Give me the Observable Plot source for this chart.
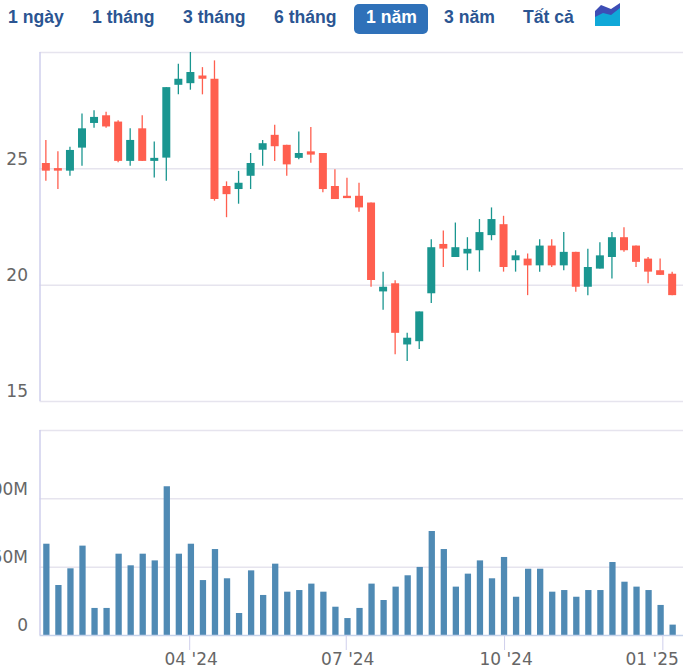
<!DOCTYPE html>
<html><head><meta charset="utf-8">
<script src="https://cdn.jsdelivr.net/npm/d3@7"></script>
<script src="https://cdn.jsdelivr.net/npm/@observablehq/plot@0.6"></script>
<style>
html,body{margin:0;padding:0;background:#fff;width:700px;height:672px;overflow:hidden}
#wrap{position:relative;width:700px;height:672px}
.btn{position:absolute;top:8px;font:bold 17.6px "Liberation Sans",Arial,sans-serif;color:#2b5592;line-height:19px;white-space:nowrap}
.btn.on{color:#fff}
#active{position:absolute;left:354px;top:4px;width:74px;height:30px;background:#2f71b9;border-radius:5px}
#icon{position:absolute;left:595px;top:2px}
.plot{position:absolute;left:0}
svg{overflow:hidden}
</style></head><body><div id="wrap">
<div id="active"></div>
<div id="icon"><svg width="26" height="25" viewBox="0 0 26 25"><path d="M0 9L6 3L16 7L25 1V24H0Z" fill="#3d4db5"/><path d="M0 15L8 11L16 13L25 6V24H0Z" fill="#10a8d8"/></svg></div>
</div>
<script>
const rangeLabels = ["1 ngày","1 tháng","3 tháng","6 tháng","1 năm","3 năm","Tất cả"];
const rangeLeft = [8,92,183,274,366,444,523];
const dates = ["2024-01-08","2024-01-15","2024-01-22","2024-01-29","2024-02-05","2024-02-12","2024-02-19","2024-02-26","2024-03-04","2024-03-11","2024-03-18","2024-03-25","2024-04-01","2024-04-08","2024-04-15","2024-04-22","2024-04-29","2024-05-06","2024-05-13","2024-05-20","2024-05-27","2024-06-03","2024-06-10","2024-06-17","2024-06-24","2024-07-01","2024-07-08","2024-07-15","2024-07-22","2024-07-29","2024-08-05","2024-08-12","2024-08-19","2024-08-26","2024-09-02","2024-09-09","2024-09-16","2024-09-23","2024-09-30","2024-10-07","2024-10-14","2024-10-21","2024-10-28","2024-11-04","2024-11-11","2024-11-18","2024-11-25","2024-12-02","2024-12-09","2024-12-16","2024-12-23","2024-12-30","2025-01-06"];
const opens = [25.23,25.01,24.90,25.89,26.95,27.28,27.01,25.32,26.72,25.32,25.46,28.59,28.66,28.99,28.85,24.24,24.11,24.68,25.80,26.44,26.01,25.45,25.73,25.66,24.24,23.82,23.82,23.53,19.71,20.06,17.43,17.57,19.63,21.75,21.19,21.34,21.48,22.13,22.60,21.05,21.12,20.83,21.68,20.83,21.41,19.91,20.69,21.19,22.04,21.68,21.12,20.62,20.47];
const closes = [24.90,24.90,25.79,26.72,27.21,26.80,25.32,26.22,25.32,25.45,28.49,28.85,29.14,28.85,23.68,23.89,24.38,25.23,26.08,25.95,25.17,25.66,25.59,24.11,23.68,23.72,23.32,20.20,19.91,17.93,17.72,18.85,21.61,21.55,21.61,21.54,22.26,22.82,20.76,21.26,20.83,21.68,20.83,21.41,19.91,20.76,21.26,22.04,21.48,20.98,20.56,20.42,19.55];
const highs = [26.22,25.73,25.93,27.36,27.50,27.43,27.07,26.72,27.28,26.15,28.49,29.50,30.00,29.35,29.64,24.44,24.89,25.66,26.22,26.87,26.01,26.58,26.78,25.66,24.96,24.60,24.38,23.53,20.56,20.19,17.93,18.85,21.95,22.33,22.67,22.04,22.82,23.32,22.96,21.48,21.34,21.95,21.95,22.26,21.41,21.54,21.82,22.26,22.47,21.68,21.19,21.12,20.55];
const lows = [24.47,24.11,24.68,25.11,26.74,26.74,25.26,25.11,25.32,24.61,24.47,28.18,28.38,28.18,23.61,22.90,23.48,24.11,25.11,25.32,24.68,25.39,25.24,23.97,23.68,23.72,23.13,19.91,18.92,17.01,16.72,17.23,19.21,20.76,21.19,20.62,20.56,21.91,20.56,20.56,19.55,20.56,20.76,20.62,19.70,19.55,20.69,20.26,21.41,20.76,20.06,20.42,19.55];
const volumes = [66.8,36.6,48.8,65.4,19.8,19.8,59.5,51,59.5,54.6,108.8,59.5,66.8,40.2,62.9,41.5,16.1,47.3,29.3,52.2,31.7,32.9,37.6,31.7,20.7,12.4,19.8,37.6,25.6,35.4,43.7,49.8,76.1,62.9,35.4,44.9,54.6,41.5,57.1,28,48.5,48.5,31.7,32.9,28,32.9,32.9,53.4,39,35.4,32.9,22,7.6];
const priceTicks = [15,20,25];
const priceLines = [15,20,25,30];
const volumeTicks = [0,50,100];
const volumeLabels = {0:"0",50:"50M",100:"100M"};
const volumeLines = [0,50,100,150];
const monthTicks = ["2024-04-01","2024-07-01","2024-10-01","2025-01-01"];
const monthLabels = ["04 '24","07 '24","10 '24","01 '25"];
const xDomain = ["2024-01-05","2025-01-13"];

const UP = "#1a9690", DOWN = "#ff5f4f", VOL = "#4f8ab4", GRID = "#e6e4ee", AXIS = "#cfcfec", LABEL = "#666";
const FONT = "'DejaVu Sans',sans-serif";
const d = s => new Date(s + "T00:00:00Z");
const wrap = document.getElementById("wrap");

rangeLabels.forEach((t, i) => {
  const s = document.createElement("span");
  s.className = "btn" + (t === "1 năm" ? " on" : "");
  s.style.left = rangeLeft[i] + "px";
  s.textContent = t;
  wrap.appendChild(s);
});

const rows = dates.map((s, i) => ({date: d(s), o: opens[i], c: closes[i], h: highs[i], l: lows[i], v: volumes[i],
  color: closes[i] >= opens[i] ? UP : DOWN}));
const shared = {width: 700, marginLeft: 39.5, marginRight: 17, style: {background: "transparent", fontFamily: FONT, fontSize: "17px", overflow: "hidden"}};
const xScale = {type: "utc", domain: xDomain.map(d)};

const price = Plot.plot({...shared, height: 372, marginTop: 12, marginBottom: 11,
  x: {...xScale, axis: null},
  y: {domain: [15, 30], axis: null},
  marks: [
    Plot.ruleY(priceLines, {stroke: GRID, strokeWidth: 1.5}),
    Plot.ruleX([xDomain[0]].map(d), {stroke: AXIS, strokeWidth: 1.5}),
    Plot.axisY({ticks: priceTicks, anchor: "left", tickSize: 0, tickPadding: 12, dy: -9.5, label: null, fill: LABEL, fontSize: 17}),
    Plot.ruleX(rows, {x: "date", y1: "l", y2: "h", dx: 0.7, stroke: "color", strokeWidth: 1.3}),
    Plot.ruleX(rows, {x: "date", y1: "o", y2: "c", dx: 0.7, stroke: "color", strokeWidth: 8})
  ]});
price.classList.add("plot"); price.style.top = "40px"; wrap.appendChild(price);

const volume = Plot.plot({...shared, height: 252, marginTop: 10, marginBottom: 37,
  x: {...xScale, axis: null},
  y: {domain: [0, 150], axis: null},
  marks: [
    Plot.ruleY(volumeLines.slice(1), {stroke: GRID, strokeWidth: 1.5}),
    Plot.ruleX([xDomain[0]].map(d), {stroke: AXIS, strokeWidth: 1.5}),
    Plot.axisY({ticks: volumeTicks, anchor: "left", tickSize: 0, tickPadding: 12, dy: -9.5, label: null, fill: LABEL, fontSize: 17, tickFormat: v => volumeLabels[v]}),
    Plot.ruleX(rows, {x: "date", y1: 0, y2: "v", dx: 1.2, stroke: VOL, strokeWidth: 6.3}),
    Plot.ruleY([0], {stroke: "#c5d2ea", strokeWidth: 1.5}),
    Plot.axisX({ticks: monthTicks.map(d), anchor: "bottom", tickSize: 15, stroke: AXIS, tickFormat: () => ""}),
    Plot.text(monthLabels.slice(0, 3), {x: (_, i) => d(monthTicks[i]), y: () => 0, text: t => t, dy: 24, dx: 1.5, fill: LABEL, fontSize: 17}),
    Plot.text(monthLabels.slice(3), {x: () => d(monthTicks[3]), y: () => 0, text: t => t, dy: 24, dx: 16, textAnchor: "end", fill: LABEL, fontSize: 17})
  ]});
volume.classList.add("plot"); volume.style.top = "420px"; wrap.appendChild(volume);
</script></body></html>
